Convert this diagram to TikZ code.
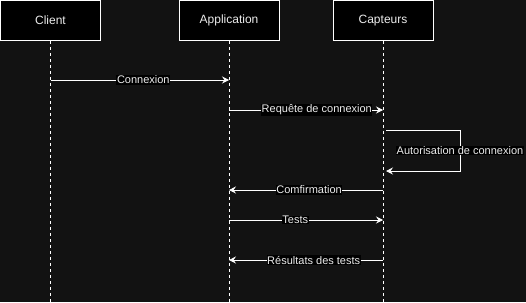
\documentclass[tikz,border=0pt]{standalone}
\usepackage{fontspec}
\setmainfont{Liberation Sans}
\usetikzlibrary{arrows.meta}
\definecolor{fond}{RGB}{18,18,18}
\definecolor{texte}{RGB}{236,236,236}

\begin{document}
\begin{tikzpicture}[x=1pt, y=-1pt, font=\fontsize{11}{13}\selectfont,
	acteur/.style={draw=white, fill=black, text=texte, font=\fontsize{12}{14}\selectfont, minimum width=100pt, minimum height=40pt, inner sep=0pt, line width=0.8pt},
	vie/.style={white, dash pattern=on 3pt off 3pt, line width=0.8pt},
	msg/.style={white, line width=0.8pt, -{Stealth[length=7pt, width=7pt, inset=2.5pt]}},
	etiq/.style={fill=black, text=texte, inner sep=0.6pt}]
		%%%%% START %%%%%
		
		\fill[fond] (0, 0) rectangle (526, 302);
		
		% les trois acteurs
		\node[acteur] (client) at (50.5, 20.5) {Client};
		\node[acteur] (appli) at (229, 20.5) {Application};
		\node[acteur] (capt) at (383, 20.5) {Capteurs};
		
		% lignes de vie
		\draw[vie] (client.south) -- (client.south |- 0, 302);
		\draw[vie] (appli.south) -- (appli.south |- 0, 302);
		\draw[vie] (capt.south) -- (capt.south |- 0, 302);
		
		% messages
		\draw[msg] (client |- 0, 80) -- node[etiq, pos=0.52] {Connexion} (appli |- 0, 80);
		\draw[msg] (appli |- 0, 110) -- node[etiq, pos=0.57] {Requête de connexion} (capt |- 0, 110);
		
		\coordinate (boucle) at (460, 150.5);
		\draw[msg] ([xshift=3pt]capt |- 0, 130) -| (boucle) node[etiq] {Autorisation de connexion} |- ([xshift=3pt]capt |- 0, 171);
		
		\draw[msg] (capt |- 0, 190) -- node[etiq, pos=0.48] {Comfirmation} (appli |- 0, 190);
		\draw[msg] (appli |- 0, 220) -- node[etiq, pos=0.43] {Tests} (capt |- 0, 220);
		\draw[msg] (capt |- 0, 260) -- node[etiq, pos=0.45] {Résultats des tests} (appli |- 0, 260);
		
		%%%%% END %%%%%
\end{tikzpicture}
\end{document}
